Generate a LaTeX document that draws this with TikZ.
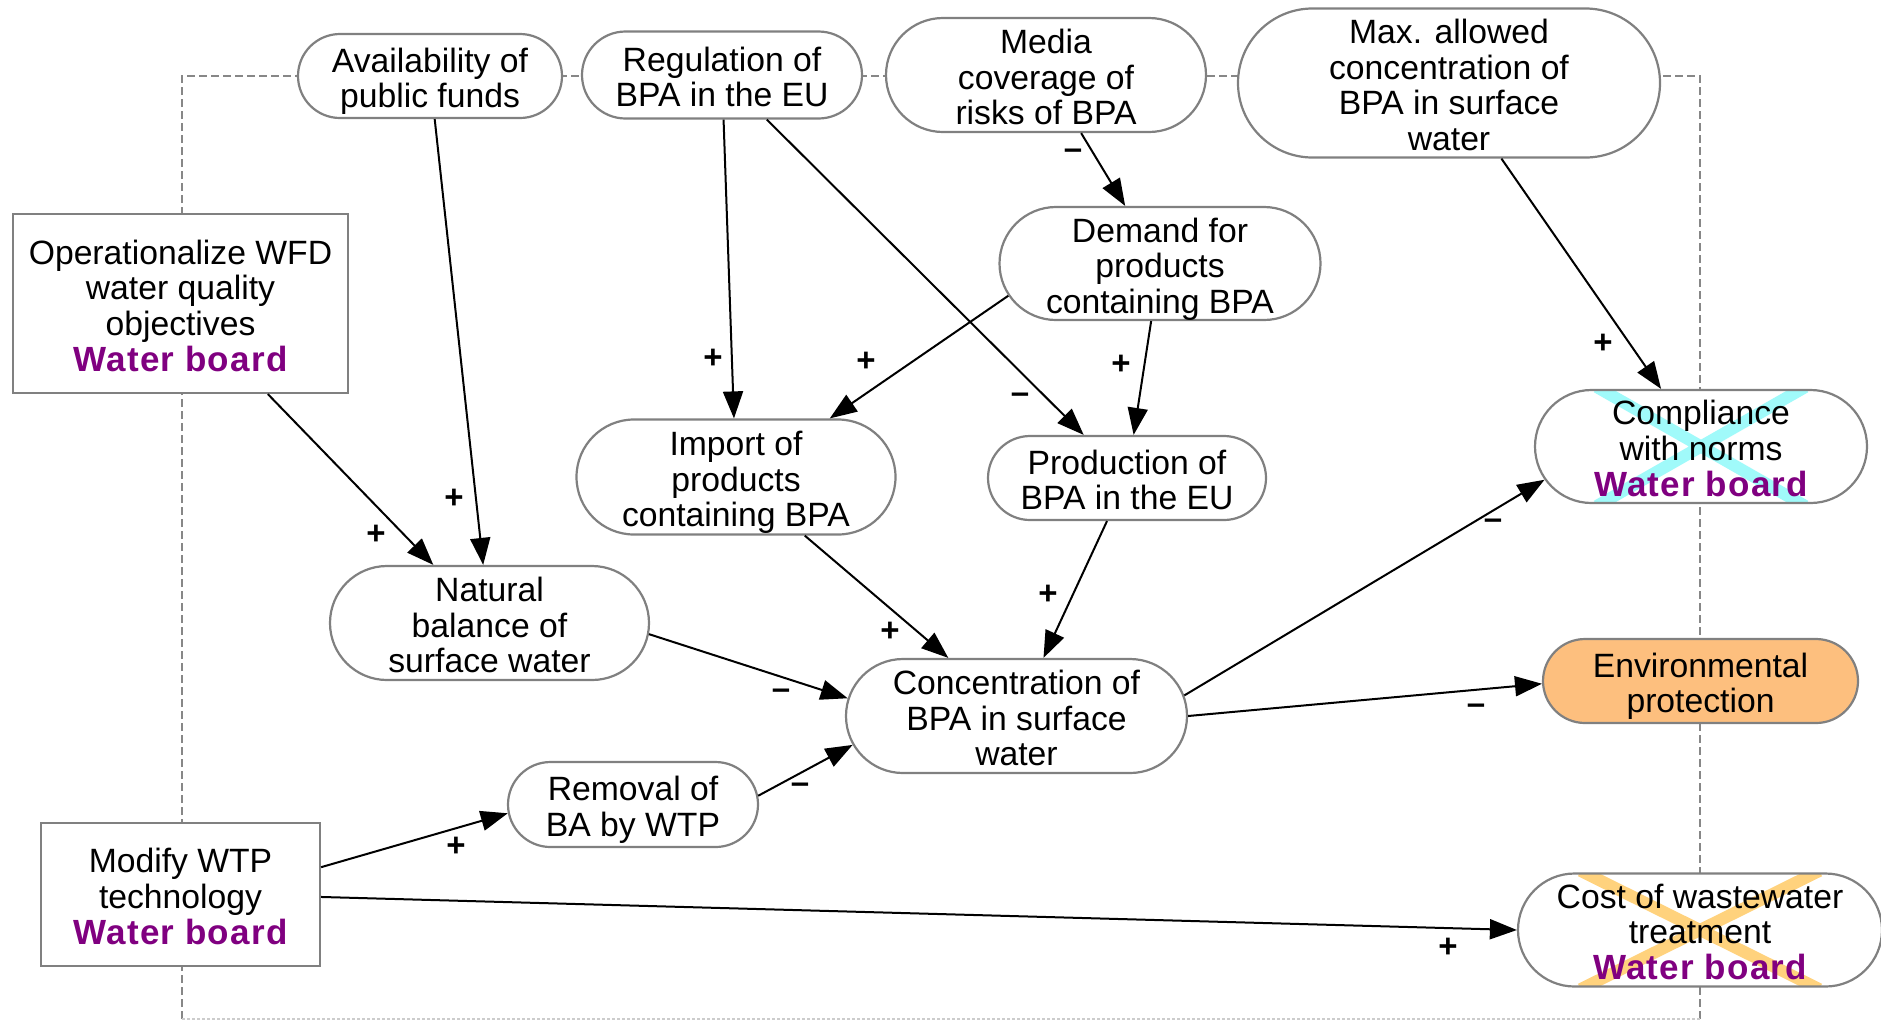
\documentclass[tikz,border=0pt]{standalone}
\usepackage{fontspec}
\setmainfont{Liberation Sans}
\usetikzlibrary{shapes.misc,arrows.meta}
\definecolor{wbpurple}{RGB}{128,0,128}
\definecolor{frameline}{RGB}{135,135,135}
\definecolor{nodeline}{RGB}{128,128,128}
\definecolor{envfill}{RGB}{253,191,126}
\definecolor{crosscyan}{RGB}{160,250,250}
\definecolor{crossorange}{RGB}{255,210,125}
% centred multi-line label that takes no width of its own, set a little low
\newcommand\nodelines[1]{\makebox[0pt][c]{\raisebox{-7pt}[\height][\depth]{\begin{tabular}{@{}c@{}}#1\end{tabular}}}}
\newcommand\wb{\textcolor{wbpurple}{\fontsize{35}{35.6}\selectfont\bfseries\addfontfeature{LetterSpace=3.5}Water board}}
\begin{document}
\begin{tikzpicture}[x=1pt,y=-1pt,
  var/.style={rounded rectangle, draw=nodeline, line width=2.2pt, fill=white,
    inner sep=0pt, font=\fontsize{33.7}{35.6}\selectfont},
  policy/.style={rectangle, draw=nodeline, line width=2.2pt, fill=white,
    inner sep=0pt, font=\fontsize{33.7}{35.6}\selectfont},
  link/.style={line width=2pt, -{Triangle[length=27pt,width=20pt]}},
  sign/.style={font=\fontsize{33}{33}\selectfont\bfseries, inner sep=0pt},
  cross/.style 2 args={path picture={\draw[#1, line width=12pt, line cap=rect]
    ([xshift=#2]path picture bounding box.north west) -- ([xshift=-#2]path picture bounding box.south east)
    ([xshift=-#2]path picture bounding box.north east) -- ([xshift=#2]path picture bounding box.south west);}},
]
\useasboundingbox (0,0) rectangle (1881,1021);

% system boundary
\draw[frameline, line width=1.5pt, dash pattern=on 8pt off 4pt]
  (182,1019) -- (182,76) -- (1700,76) -- (1700,1019);
\draw[gray!40, line width=1.2pt, dash pattern=on 3pt off 2pt] (182,1019) -- (1700,1019);

% factors
\node[var, minimum width=264pt, minimum height=84pt] (funds) at (430,76)
  {\nodelines{Availability of\\public funds}};
\node[var, minimum width=280pt, minimum height=87pt] (reg) at (722,75)
  {\nodelines{Regulation of\\BPA in the EU}};
\node[var, minimum width=320pt, minimum height=114pt] (media) at (1046,75)
  {\nodelines{Media\\coverage of\\risks of BPA}};
\node[var, minimum width=422pt, minimum height=149pt] (maxc) at (1449,83)
  {\nodelines{Max. allowed\\concentration of\\BPA in surface\\water}};
\node[policy, minimum width=335pt, minimum height=179pt] (wfd) at (180.5,303.5)
  {\nodelines{Operationalize WFD\\water quality\\objectives\\\wb}};
\node[var, minimum width=321pt, minimum height=113pt] (demand) at (1160,263.5)
  {\nodelines{Demand for\\products\\containing BPA}};
\node[var, minimum width=319pt, minimum height=115pt] (import) at (736,477)
  {\nodelines{Import of\\products\\containing BPA}};
\node[var, minimum width=278pt, minimum height=84pt] (prod) at (1127,478)
  {\nodelines{Production of\\BPA in the EU}};
\node[var, minimum width=332pt, minimum height=113pt, cross={crosscyan}{67pt}] (comply) at (1701,446.5)
  {\nodelines{Compliance\\with norms\\\wb}};
\node[var, minimum width=319pt, minimum height=114pt] (natural) at (489.5,623)
  {\nodelines{Natural\\balance of\\surface water}};
\node[var, fill=envfill, minimum width=315pt, minimum height=84pt] (env) at (1700.5,681)
  {\nodelines{Environmental\\protection}};
\node[var, minimum width=341pt, minimum height=114pt] (conc) at (1016.5,716)
  {\nodelines{Concentration of\\BPA in surface\\water}};
\node[var, minimum width=250pt, minimum height=85pt] (removal) at (633,804.5)
  {\nodelines{Removal of\\BA by WTP}};
\node[policy, minimum width=279pt, minimum height=143pt] (wtp) at (180.5,894.5)
  {\nodelines{Modify WTP\\technology\\\wb}};
\node[var, minimum width=364pt, minimum height=113pt, cross={crossorange}{68pt}] (cost) at (1700,930)
  {\nodelines{Cost of wastewater\\treatment\\\wb}};

% causal links
\draw[link] (funds) -- (natural);
\draw[link] (wfd) -- (natural);
\draw[link] (reg) -- (import);
\draw[link] (reg) -- (prod);
\draw[link] (media) -- (demand);
\draw[link] (demand.192) -- (import.32);
\draw[link] (demand) -- (prod);
\draw[link] (maxc) -- (comply);
\draw[link] (import) -- (conc);
\draw[link] (prod) -- (conc);
\draw[link] (natural.-4) -- (conc.174);
\draw[link] (removal.4) -- (conc.190);
\draw[link] (wtp.11) -- (removal.184);
\draw[link] (wtp.-1) -- (cost.west);
\draw[link] (conc.7) -- (comply.192);
\draw[link] (conc.east) -- (env.181);

% polarities
\node[sign] (s1) at (454,499) {+};
\node[sign] (s2) at (376,535) {+};
\node[sign] (s3) at (713,359) {+};
\node[sign] (s4) at (1020,398) {--};
\node[sign] (s5) at (1073,154) {--};
\node[sign] (s6) at (866,362) {+};
\node[sign] (s7) at (1121,365) {+};
\node[sign] (s8) at (1603,344) {+};
\node[sign] (s9) at (890,632) {+};
\node[sign] (s10) at (1048,595) {+};
\node[sign] (s11) at (781,694) {--};
\node[sign] (s12) at (800,788) {--};
\node[sign] (s13) at (456,847) {+};
\node[sign] (s14) at (1448,948) {+};
\node[sign] (s15) at (1493,524) {--};
\node[sign] (s16) at (1476,709) {--};
\end{tikzpicture}
\end{document}
